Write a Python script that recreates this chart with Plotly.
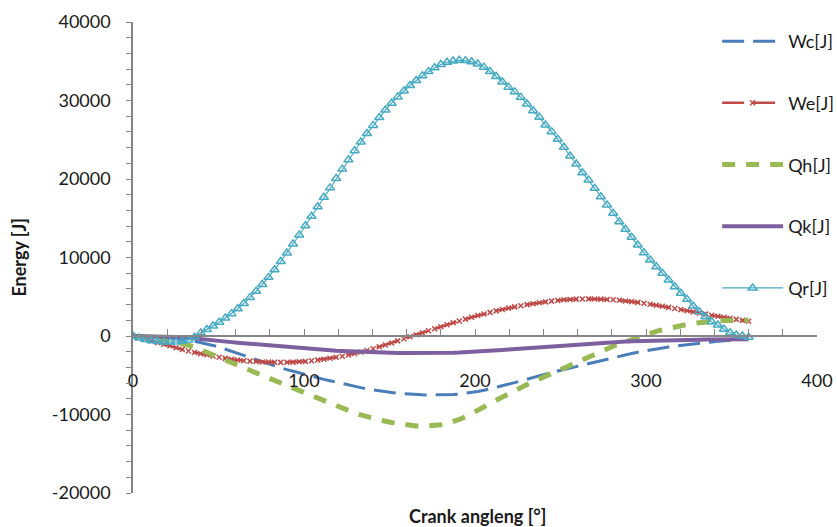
import plotly.graph_objects as go

# Crank angle grid (one sample every 3.6 degrees over a full revolution)
ANGLE_STEP = 3.6
crank_angle = [round(i * ANGLE_STEP, 1) for i in range(101)]

# Compression-space work [J]
wc = [0, -10, -30, -60, -100, -150, -220, -300, -400, -520,
      -660, -820, -1000, -1200, -1420, -1660, -1920, -2190, -2470, -2750,
      -3030, -3300, -3560, -3810, -4050, -4280, -4500, -4710, -4920, -5120,
      -5320, -5520, -5710, -5900, -6080, -6250, -6420, -6580, -6730, -6870,
      -7000, -7110, -7210, -7300, -7370, -7420, -7460, -7490, -7510, -7520,
      -7520, -7500, -7460, -7400, -7320, -7210, -7080, -6920, -6740, -6540,
      -6350, -6150, -5940, -5720, -5490, -5260, -5040, -4840, -4640, -4450,
      -4260, -4060, -3860, -3660, -3470, -3280, -3090, -2910, -2730, -2560,
      -2390, -2230, -2070, -1920, -1780, -1640, -1510, -1390, -1280, -1180,
      -1090, -1000, -920, -840, -760, -680, -600, -530, -460, -400,
      -340]

# Expansion-space work [J]
we = [0, -150, -350, -600, -850, -1050, -1250, -1500, -1700, -1900,
      -2100, -2250, -2400, -2550, -2700, -2850, -2950, -3050, -3150, -3200,
      -3250, -3300, -3320, -3350, -3360, -3350, -3330, -3290, -3230, -3150,
      -3060, -2950, -2840, -2710, -2570, -2410, -2240, -2050, -1850, -1620,
      -1380, -1140, -880, -620, -360, -100, 160, 420, 680, 930,
      1180, 1430, 1680, 1920, 2150, 2380, 2600, 2810, 3010, 3200,
      3380, 3550, 3710, 3860, 4000, 4120, 4240, 4350, 4440, 4520,
      4610, 4660, 4700, 4720, 4730, 4720, 4700, 4660, 4610, 4550,
      4470, 4380, 4280, 4170, 4050, 3920, 3790, 3650, 3510, 3360,
      3220, 3070, 2930, 2790, 2650, 2510, 2380, 2250, 2120, 1990,
      1870]

# Heater heat [J]
qh = [0, -30, -90, -180, -280, -400, -560, -750, -960, -1180,
      -1430, -1740, -2070, -2390, -2720, -3050, -3380, -3710, -4040, -4370,
      -4700, -5030, -5360, -5690, -6020, -6340, -6660, -6980, -7300, -7620,
      -7960, -8290, -8620, -8940, -9250, -9540, -9810, -10060, -10290, -10500,
      -10690, -10860, -11010, -11150, -11280, -11390, -11460, -11500, -11480, -11410,
      -11300, -11150, -10920, -10630, -10290, -9910, -9500, -9070, -8630, -8190,
      -7760, -7350, -6950, -6570, -6190, -5820, -5460, -5100, -4740, -4380,
      -4020, -3660, -3300, -2950, -2600, -2260, -1930, -1610, -1300, -1000,
      -710, -430, -160, 100, 350, 580, 800, 1000, 1180, 1340,
      1480, 1600, 1710, 1800, 1870, 1920, 1960, 1980, 1990, 2000,
      2000]

# Cooler heat [J]
qk = [0, 0, -10, -20, -30, -50, -80, -120, -170, -230,
      -300, -380, -460, -540, -620, -700, -780, -850, -920, -990,
      -1060, -1130, -1200, -1270, -1340, -1410, -1480, -1540, -1600, -1660,
      -1720, -1770, -1820, -1870, -1910, -1950, -1990, -2020, -2050, -2080,
      -2100, -2120, -2140, -2150, -2160, -2170, -2175, -2180, -2180, -2175,
      -2165, -2150, -2130, -2105, -2075, -2040, -2000, -1955, -1905, -1850,
      -1790, -1730, -1670, -1610, -1550, -1490, -1430, -1370, -1310, -1250,
      -1190, -1130, -1075, -1020, -970, -920, -875, -830, -790, -750,
      -715, -680, -650, -620, -595, -570, -550, -530, -515, -500,
      -485, -475, -465, -455, -447, -440, -435, -430, -425, -422,
      -420]

# Regenerator heat [J]
qr = [0, -250, -450, -600, -700, -750, -780, -760, -680, -500,
      -150, 400, 830, 1280, 1760, 2280, 2850, 3470, 4150, 4890,
      5690, 6550, 7470, 8450, 9490, 10580, 11710, 12870, 14050, 15250,
      16460, 17670, 18870, 20060, 21260, 22440, 23590, 24710, 25790, 26830,
      27830, 28780, 29660, 30460, 31210, 31910, 32550, 33140, 33680, 34160,
      34580, 34870, 35040, 35120, 35080, 34930, 34650, 34250, 33700, 33050,
      32350, 31700, 31100, 30400, 29560, 28700, 27860, 26880, 26030, 25060,
      24040, 22930, 21910, 20800, 19870, 18810, 17740, 16690, 15630, 14560,
      13590, 12570, 11590, 10610, 9680, 8830, 7990, 7130, 6280, 5440,
      4670, 3820, 3100, 2460, 1820, 1400, 850, 420, 130, 0,
      -170]

x_ticks = [0, 100, 200, 300, 400]
y_ticks = [-20000, -10000, 0, 10000, 20000, 30000, 40000]

FONT = "Lato"
TEXT = "#1a1a1a"
AXIS = "#868686"

fig = go.Figure()

fig.add_trace(go.Scatter(
    x=crank_angle, y=wc, name="Wc[J]", mode="lines", legendgroup="wc",
    line=dict(color="#4A7EBB", width=3, dash="22px,9px"),
))
fig.add_trace(go.Scatter(
    x=crank_angle, y=we, name="We[J]", mode="lines+markers", legendgroup="we",
    line=dict(color="#BE4B48", width=2.5, dash="22px,9px"),
    marker=dict(symbol="x-thin", size=5, line=dict(color="#BE4B48", width=1.5)),
))
fig.add_trace(go.Scatter(
    x=crank_angle, y=qh, name="Qh[J]", mode="lines", legendgroup="qh",
    line=dict(color="#98B954", width=5, dash="13px,11px"),
))
fig.add_trace(go.Scatter(
    x=crank_angle, y=qk, name="Qk[J]", mode="lines", legendgroup="qk",
    line=dict(color="#7D60A0", width=4),
))
fig.add_trace(go.Scatter(
    x=crank_angle, y=qr, name="Qr[J]", mode="lines+markers", legendgroup="qr",
    line=dict(color="#46AAC5", width=1.2),
    marker=dict(symbol="triangle-up-open", size=8, color="#46AAC5",
                line=dict(color="#46AAC5", width=1.5)),
))

fig.update_layout(
    width=837, height=527,
    margin=dict(l=133, r=20, t=22, b=34, autoexpand=False),
    paper_bgcolor="white", plot_bgcolor="white",
    font=dict(family=FONT, size=18, color=TEXT),
    showlegend=True,
    legend=dict(
        x=0.854, y=0.998, xanchor="left", yanchor="top",
        bgcolor="rgba(0,0,0,0)", font=dict(family=FONT, size=18, color=TEXT),
        tracegroupgap=35.3, itemwidth=61,
    ),
    xaxis=dict(
        range=[0, 400], tickvals=x_ticks, ticktext=[str(v) for v in x_ticks],
        anchor="free", position=1 / 3,
        showline=True, linecolor=AXIS, linewidth=1.5,
        ticks="inside", ticklen=6, tickcolor=AXIS, tickwidth=1.2,
        minor=dict(dtick=20, ticks="inside", ticklen=6, tickcolor=AXIS, tickwidth=1.2),
        ticklabelstandoff=29,
        showgrid=False, zeroline=False,
        tickfont=dict(family=FONT, size=18, color=TEXT),
    ),
    yaxis=dict(
        range=[-20000, 40000], tickvals=y_ticks, ticktext=[str(v) for v in y_ticks],
        showline=True, linecolor=AXIS, linewidth=1.5,
        ticks="outside", ticklen=5, tickcolor=AXIS, tickwidth=1.2,
        minor=dict(dtick=2000, ticks="outside", ticklen=5, tickcolor=AXIS, tickwidth=1.2),
        ticklabelstandoff=12,
        showgrid=False, zeroline=False,
        tickfont=dict(family=FONT, size=18, color=TEXT),
    ),
    annotations=[
        dict(text="<b>Crank angleng [°]</b>", xref="paper", yref="paper",
             x=0.503, y=-0.049, xanchor="center", yanchor="middle",
             showarrow=False, font=dict(family=FONT, size=18, color=TEXT)),
        dict(text="<b>Energy [J]</b>", xref="paper", yref="paper",
             x=-0.168, y=0.5, xanchor="center", yanchor="middle", textangle=-90,
             showarrow=False, font=dict(family=FONT, size=18, color=TEXT)),
    ],
)

fig.write_html("out.html")
